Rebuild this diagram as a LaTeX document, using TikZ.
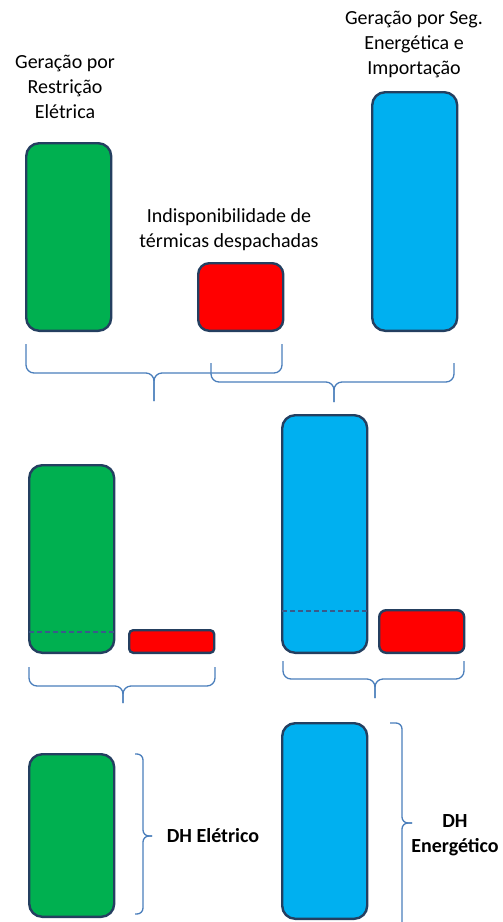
\documentclass[tikz,border=0pt]{standalone}
\usepackage{fontspec}
\setmainfont{Carlito}
\definecolor{dhGreen}{RGB}{0,176,80}
\definecolor{dhBlue}{RGB}{0,176,240}
\definecolor{dhRed}{RGB}{255,0,0}
\definecolor{dhEdge}{RGB}{36,63,96}
\definecolor{dhBrace}{RGB}{74,126,187}
\definecolor{dhDash}{RGB}{58,90,138}
\usetikzlibrary{positioning}

\begin{document}
\begin{tikzpicture}[x=1pt, y=-1pt,
  bar/.style={draw=dhEdge, line width=2.4pt, rounded corners=13pt, minimum width=85pt,
              inner sep=0pt, outer sep=0pt, anchor=south west},
  lbl/.style={align=center, inner sep=0pt, font=\fontsize{20}{25}\selectfont},
  brc/.style={draw=dhBrace, line width=1.3pt, rounded corners=8pt},
  cut/.style={draw=dhDash, line width=1.5pt, dash pattern=on 5pt off 3pt}
]
  \useasboundingbox (0,0) rectangle (503,922);

  % top row
  \node[bar, fill=dhGreen, minimum height=187.6pt] (restr) at (26.2,330.8) {};
  \node[bar, fill=dhRed, minimum height=67.6pt, rounded corners=11pt] (indisp) at (198.2,330.8) {};
  \node[bar, fill=dhBlue, minimum height=238.6pt] (segen) at (372.2,330.8) {};

  \node[lbl] (restrTxt) at (65,87) {Geração por\\Restrição\\Elétrica};
  \node[lbl] (indispTxt) at (229,230) {Indisponibilidade de\\térmicas despachadas};
  \node[lbl] (segenTxt) at (414,44) {Geração por Seg.\\Energética e\\Importação};

  \draw[brc] (26,344) |- (154,373) -- (154,401);
  \draw[brc] (282,344) |- (154,373) -- (154,401);
  \draw[brc] (211,363) |- (334,382) -- (334,402);
  \draw[brc] (454,363) |- (334,382) -- (334,402);

  % middle row
  \node[bar, fill=dhGreen, minimum height=187.6pt] (restrB) at (29.2,652.8) {};
  \node[bar, fill=dhRed, minimum height=22.6pt, rounded corners=4pt] (indispB) at (129.2,652.8) {};
  \node[bar, fill=dhBlue, minimum height=237.6pt] (segenB) at (282.2,652.8) {};
  \node[bar, fill=dhRed, minimum height=42.6pt, rounded corners=7pt] (indispC) at (379.2,652.8) {};

  \coordinate (gcut) at (0,632);
  \coordinate (bcut) at (0,611);
  \draw[cut] (restrB.west |- gcut) -- (restrB.east |- gcut);
  \draw[cut] (segenB.west |- bcut) -- (segenB.east |- bcut);

  \draw[brc] (29,667) |- (123,686) -- (123,703);
  \draw[brc] (215,667) |- (123,686) -- (123,703);
  \draw[brc] (283,661) |- (375,679) -- (375,698);
  \draw[brc] (464,661) |- (375,679) -- (375,698);

  % bottom row
  \node[bar, fill=dhGreen, minimum height=162.6pt] (dhEle) at (29.2,916.8) {};
  \node[bar, fill=dhBlue, minimum height=195.6pt] (dhEne) at (282.2,918.8) {};

  \draw[brc, rounded corners=6pt] (135,754) -| (143,836) -- (152,836);
  \draw[brc, rounded corners=6pt] (135,914) -| (143,836) -- (152,836);
  \draw[brc, rounded corners=6pt] (390,723) -| (402,823) -- (412,823);
  \draw[brc, rounded corners=6pt] (390,935) -| (402,823) -- (412,823);

  \node[lbl, font=\fontsize{20}{25}\selectfont\bfseries] (dhEleTxt) at (213,836) {DH Elétrico};
  \node[lbl, font=\fontsize{20}{25}\selectfont\bfseries] (dhEneTxt) at (455,835) {DH\\Energético};
\end{tikzpicture}
\end{document}
